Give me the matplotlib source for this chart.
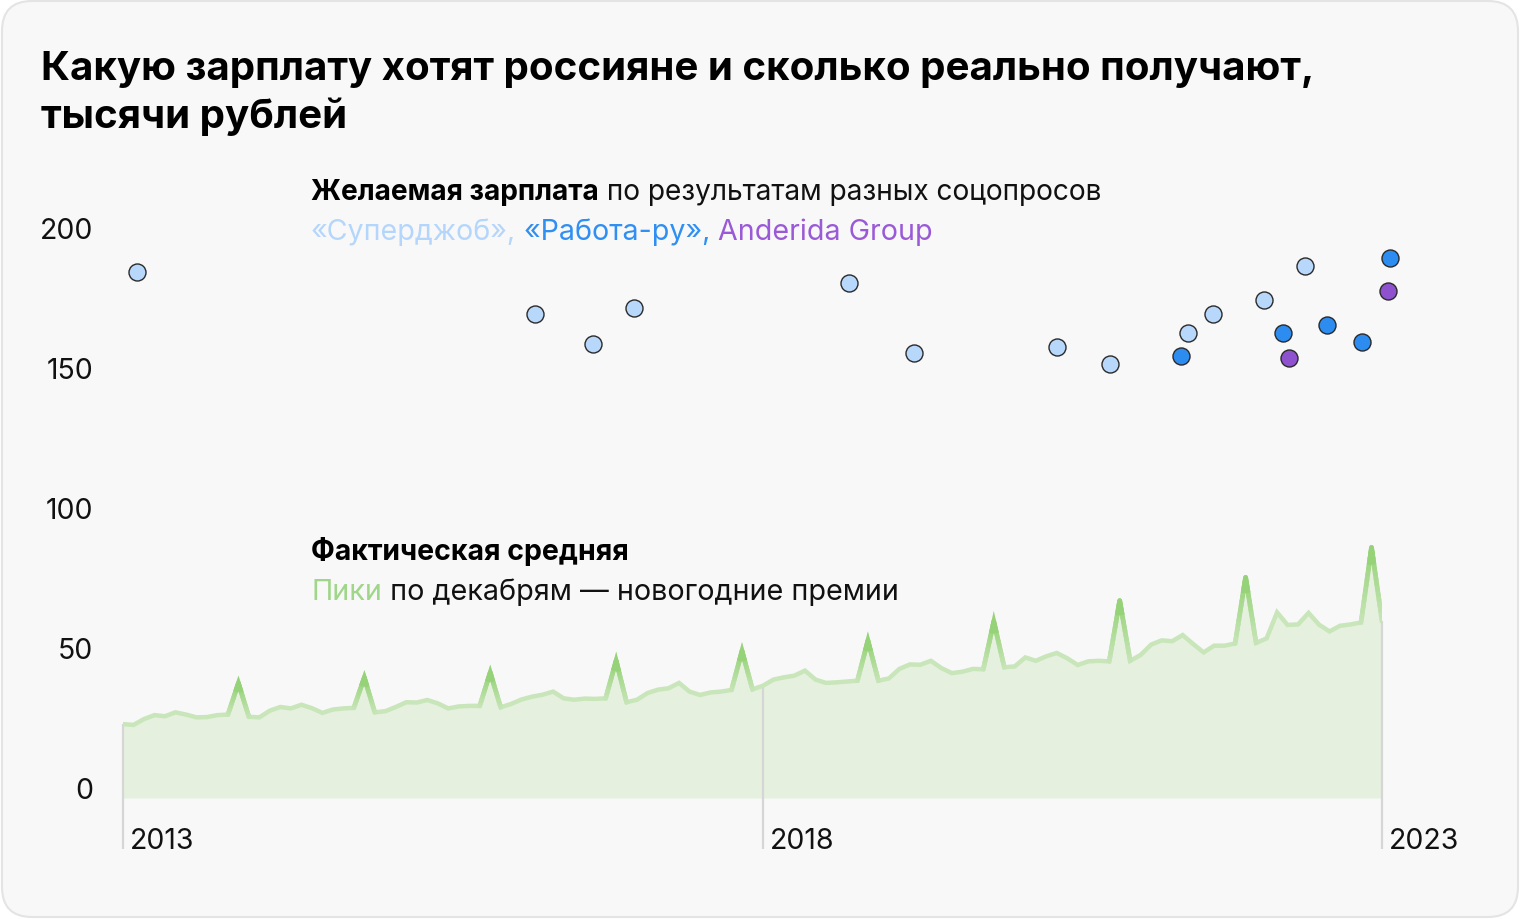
import numpy as np
import matplotlib
matplotlib.use('Agg')
import matplotlib.pyplot as plt
from matplotlib.patches import FancyBboxPatch
from matplotlib.collections import LineCollection
from matplotlib import transforms

plt.rcParams['font.family'] = ['Inter', 'DejaVu Sans']

# Фактическая средняя зарплата, тыс. руб., помесячно янв 2013 - янв 2023
wage = [26.4, 26.1, 28.2, 29.6, 29.2, 30.6, 29.8, 28.8, 28.9, 29.6, 29.8, 41.0,
        29.0, 28.8, 31.2, 32.5, 32.0, 33.3, 32.1, 30.4, 31.6, 32.0, 32.2, 43.0,
        30.6, 31.0, 32.5, 34.2, 34.1, 35.0, 33.8, 32.0, 32.7, 32.9, 32.9, 44.8,
        32.4, 33.6, 35.2, 36.2, 36.9, 38.0, 35.6, 35.1, 35.5, 35.4, 35.6, 49.0,
        34.2, 35.1, 37.5, 38.7, 39.2, 41.1, 38.0, 36.8, 37.7, 38.0, 38.6, 52.5,
        38.8, 40.1, 42.3, 43.1, 43.7, 45.5, 42.3, 41.1, 41.3, 41.6, 41.9, 56.2,
        41.9, 42.7, 46.1, 47.7, 47.6, 49.0, 46.4, 44.6, 45.1, 46.1, 46.0, 63.0,
        46.7, 47.0, 50.2, 49.0, 50.6, 51.8, 49.9, 47.5, 48.8, 49.0, 48.8, 70.5,
        49.0, 51.1, 54.8, 56.3, 56.0, 58.2, 55.0, 52.0, 54.4, 54.4, 55.2, 78.8,
        55.4, 57.0, 66.3, 61.8, 62.0, 66.1, 61.9, 59.5, 61.5, 62.0, 62.7, 89.5,
        63.3]
months = 2013 + np.arange(len(wage)) / 12

# Желаемая зарплата по опросам
sj_x = [2013.11, 2016.27, 2016.73, 2017.06, 2018.77, 2019.28, 2020.42, 2020.84,
        2021.46, 2021.66, 2022.06, 2022.39]
sj_y = [188, 173, 162, 175, 184, 159, 161, 155, 166, 173, 178, 190]
rr_x = [2021.40, 2022.21, 2022.56, 2022.84, 2023.06]
rr_y = [158, 166, 169, 163, 193]
an_x = [2022.26, 2023.05]
an_y = [157, 181]

year_idx = [0, 61, 120]
year_lbl = ['2013', '2018', '2023']
yticks = [0, 50, 100, 150, 200]

W, H = 1520, 920
fig = plt.figure(figsize=(W / 100, H / 100), dpi=100, facecolor='white')

# карточка
bg = fig.add_axes([0, 0, 1, 1])
bg.set_xlim(0, W)
bg.set_ylim(H, 0)
bg.axis('off')
bg.add_patch(FancyBboxPatch((2, 2), W - 4, H - 4, boxstyle='round,pad=0,rounding_size=30',
                            fc='#f8f8f8', ec='#e4e4e4', lw=1.5))

# основная область
ax = fig.add_axes([123 / W, (H - 799) / H, 1259 / W, 560 / H])
ax.set_xlim(2013, 2023)
ax.set_ylim(0, 200)
ax.axis('off')

light = np.array([200, 230, 185]) / 255
dark = np.array([150, 210, 120]) / 255

ax.fill_between(months, wage, 0, color='#e5f0df', lw=0, zorder=1)
for i, lab in zip(year_idx, year_lbl):
    ax.plot([months[i], months[i]], [-18.2, wage[i]], color='#d6d6d6', lw=1.6,
            zorder=2, clip_on=False, solid_capstyle='butt')
    tr = transforms.offset_copy(ax.transData, fig=fig, x=7 * 0.72, y=0, units='points')
    ax.text(months[i], -17.9, lab, transform=tr, fontsize=20.5, va='baseline',
            ha='left', color='#111111')

ax.plot(months, wage, color=light, lw=3.2, zorder=3, solid_joinstyle='miter')

# пики по декабрям — градиент
n = 14
for d in range(11, len(wage), 12):
    segs, cols = [], []
    for nb in (d - 1, d + 1):
        if nb >= len(wage):
            continue
        x0, y0 = months[nb], wage[nb]
        x1, y1 = months[d], wage[d]
        for k in range(n):
            t0, t1 = k / n, (k + 1) / n
            segs.append([(x0 + (x1 - x0) * t0, y0 + (y1 - y0) * t0),
                         (x0 + (x1 - x0) * t1, y0 + (y1 - y0) * t1)])
            tm = (t0 + t1) / 2
            cols.append(light * (1 - tm) + dark * tm)
    ax.add_collection(LineCollection(segs, colors=cols, lw=3.4, zorder=4,
                                     capstyle='round'))
    tx = []
    for nb in (d - 1, d + 1):
        if nb < len(wage):
            t = 0.8
            tx.append((months[nb] + (months[d] - months[nb]) * t,
                       wage[nb] + (wage[d] - wage[nb]) * t))
    pts = [tx[0], (months[d], wage[d])] + tx[1:]
    xs, ys = zip(*pts)
    ax.plot(xs, ys, color=dark, lw=3.4, zorder=5, solid_joinstyle='miter')

sc_kw = dict(s=150, edgecolors='#2a2a2a', linewidths=1, zorder=6, clip_on=False)
ax.scatter(sj_x, sj_y, c='#b8d8fb', **sc_kw)
ax.scatter(rr_x, rr_y, c='#2d8cf0', **sc_kw)
ax.scatter(an_x, an_y, c='#8e52cf', **sc_kw)

for v in yticks:
    ax.text(-0.0238, v, str(v), transform=ax.get_yaxis_transform(), fontsize=20.5,
            ha='right', va='baseline', color='#111111')


def px(x, y):
    return x / W, 1 - y / H


renderer = fig.canvas.get_renderer()


def rich(x, y, parts, size):
    for s, color, weight in parts:
        t = fig.text(*px(x, y), s, color=color, fontsize=size, fontweight=weight,
                     va='baseline', ha='left')
        x += t.get_window_extent(renderer).width


fig.text(*px(41, 80), 'Какую зарплату хотят россияне и сколько реально получают,',
         fontsize=29, fontweight='bold', va='baseline', color='#000000')
fig.text(*px(41, 128), 'тысячи рублей', fontsize=29, fontweight='bold',
         va='baseline', color='#000000')

rich(311, 200, [('Желаемая зарплата', '#000000', 'bold'),
                (' по результатам разных соцопросов', '#111111', 'normal')], 20.2)
rich(311, 240, [('«Суперджоб»,', '#b5d6fc', 'normal'),
                (' «Работа-ру»,', '#2f8ff2', 'normal'),
                (' Anderida Group', '#9a5ad8', 'normal')], 20.6)
rich(311, 560, [('Фактическая средняя', '#000000', 'bold')], 20.5)
rich(311, 600, [('Пики', '#a0d68a', 'normal'),
                (' по декабрям — новогодние премии', '#111111', 'normal')], 20.7)

fig.savefig('out.png', dpi=100, facecolor=fig.get_facecolor())
